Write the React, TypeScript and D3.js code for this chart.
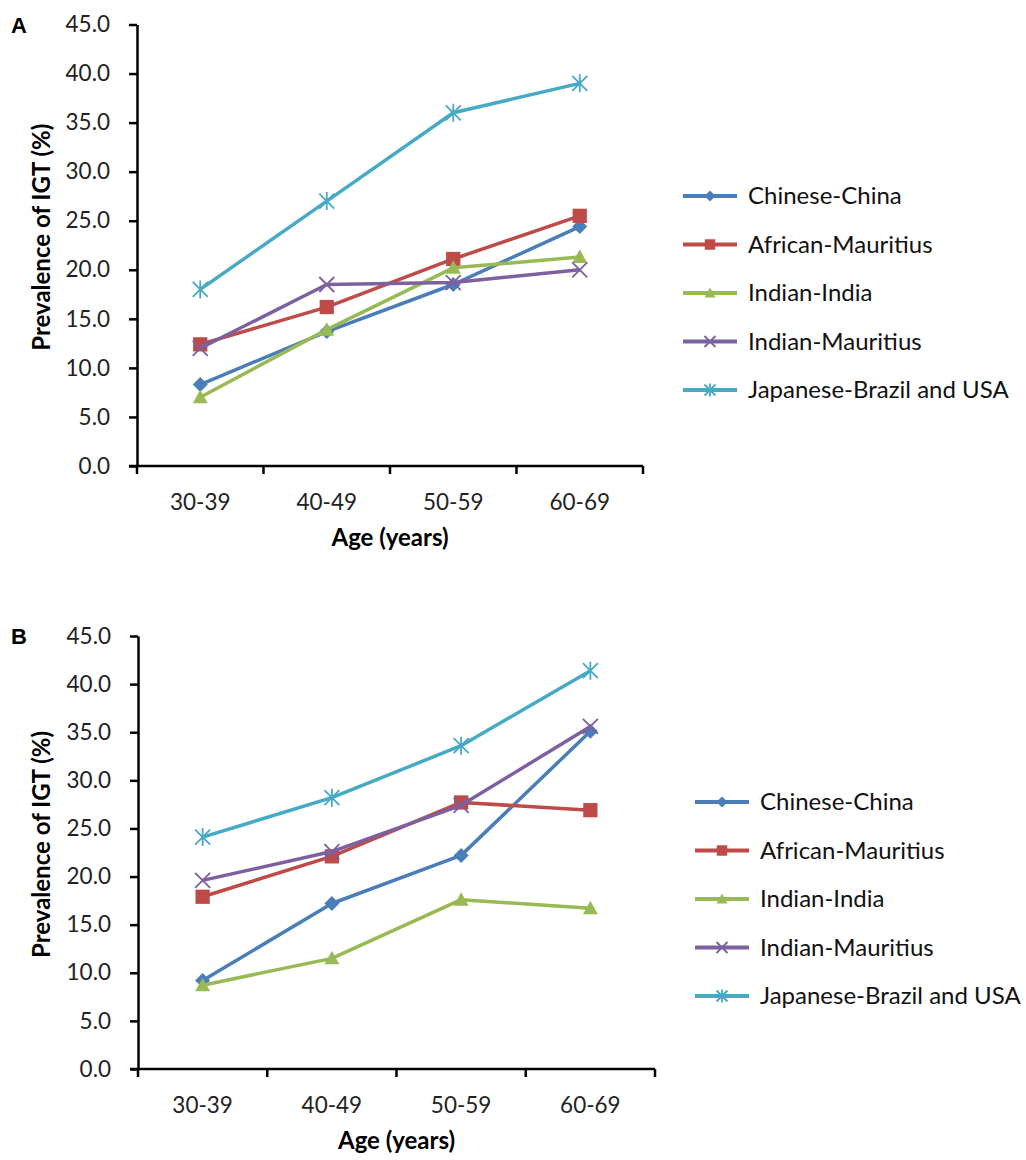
import React, { useRef, useEffect } from "react";
import * as d3 from "d3";

const ageGroups = ["30-39", "40-49", "50-59", "60-69"];
const seriesNames = [
  "Chinese-China",
  "African-Mauritius",
  "Indian-India",
  "Indian-Mauritius",
  "Japanese-Brazil and USA",
];
const yTicks = [0, 5, 10, 15, 20, 25, 30, 35, 40, 45];

// panel A
const chinaA = [8.3, 13.7, 18.5, 24.4];
const africanA = [12.4, 16.2, 21.1, 25.5];
const indiaA = [7.0, 13.9, 20.2, 21.3];
const indianMauA = [12.0, 18.5, 18.7, 20.0];
const japaneseA = [18.0, 27.0, 36.0, 39.0];

// panel B
const chinaB = [9.2, 17.2, 22.2, 35.1];
const africanB = [17.9, 22.1, 27.7, 26.9];
const indiaB = [8.7, 11.5, 17.6, 16.7];
const indianMauB = [19.6, 22.6, 27.4, 35.6];
const japaneseB = [24.1, 28.2, 33.6, 41.4];

const colors = ["#4A7EBB", "#BE4B48", "#98B954", "#7D60A0", "#46AAC5"];
const markers = ["diamond", "square", "triangle", "x", "star"];
const FONT = "Lato, 'Open Sans', sans-serif";

const drawMarker = (g, type, x, y, color, s) => {
  if (type === "diamond") {
    g.append("path")
      .attr("d", `M${x},${y - s}L${x + s},${y}L${x},${y + s}L${x - s},${y}Z`)
      .attr("fill", color);
  } else if (type === "square") {
    g.append("rect")
      .attr("x", x - s * 0.95)
      .attr("y", y - s * 0.95)
      .attr("width", s * 1.9)
      .attr("height", s * 1.9)
      .attr("fill", color);
  } else if (type === "triangle") {
    g.append("path")
      .attr("d", `M${x},${y - s}L${x + s},${y + s * 0.8}L${x - s},${y + s * 0.8}Z`)
      .attr("fill", color);
  } else if (type === "x") {
    g.append("path")
      .attr("d", `M${x - s},${y - s}L${x + s},${y + s}M${x - s},${y + s}L${x + s},${y - s}`)
      .attr("stroke", color)
      .attr("stroke-width", 1.8)
      .attr("fill", "none");
  } else {
    g.append("path")
      .attr(
        "d",
        `M${x - s},${y - s}L${x + s},${y + s}M${x - s},${y + s}L${x + s},${y - s}M${x},${y - s * 1.2}L${x},${y + s * 1.2}`
      )
      .attr("stroke", color)
      .attr("stroke-width", 1.8)
      .attr("fill", "none");
  }
};

const drawPanel = (svg, p) => {
  const x = d3.scaleBand().domain(ageGroups).range([p.x0, p.x1]);
  const y = d3.scaleLinear().domain([0, 45]).range([p.yBottom, p.yTop]);

  const g = svg.append("g");

  g.append("text")
    .attr("x", 11)
    .attr("y", p.yTop + 8)
    .attr("font-family", "'Liberation Sans', Arial, sans-serif")
    .attr("font-weight", "bold")
    .attr("font-size", 22)
    .text(p.label);

  // y axis
  const yAxis = g
    .append("g")
    .attr("transform", `translate(${p.x0},0)`)
    .call(
      d3
        .axisLeft(y)
        .tickValues(yTicks)
        .tickFormat(d3.format(".1f"))
        .tickSize(8)
        .tickSizeOuter(0)
        .tickPadding(19)
    );
  yAxis.select(".domain").attr("stroke", "#000").attr("stroke-width", 2.5);
  yAxis.selectAll(".tick line").attr("stroke", "#000").attr("stroke-width", 2.5);
  yAxis
    .selectAll(".tick text")
    .attr("font-family", FONT)
    .attr("font-size", 22.5)
    .attr("fill", "#222");

  // x axis
  g.append("line")
    .attr("x1", p.x0 - 8)
    .attr("x2", p.x1)
    .attr("y1", p.yBottom)
    .attr("y2", p.yBottom)
    .attr("stroke", "#000")
    .attr("stroke-width", 2.5);
  [...ageGroups.map((a) => x(a)), p.x1].forEach((tx) => {
    g.append("line")
      .attr("x1", tx)
      .attr("x2", tx)
      .attr("y1", p.yBottom)
      .attr("y2", p.yBottom + 8)
      .attr("stroke", "#000")
      .attr("stroke-width", 2.5);
  });
  ageGroups.forEach((a) => {
    g.append("text")
      .attr("x", x(a) + x.bandwidth() / 2)
      .attr("y", p.yBottom + 44)
      .attr("text-anchor", "middle")
      .attr("font-family", FONT)
      .attr("font-size", 22.5)
      .attr("fill", "#222")
      .text(a);
  });

  g.append("text")
    .attr("x", (p.x0 + p.x1) / 2)
    .attr("y", p.yBottom + 80)
    .attr("text-anchor", "middle")
    .attr("font-family", FONT)
    .attr("font-weight", "bold")
    .attr("font-size", 24)
    .text("Age (years)");

  g.append("text")
    .attr("transform", `translate(50,${(p.yTop + p.yBottom) / 2 - 8}) rotate(-90)`)
    .attr("text-anchor", "middle")
    .attr("font-family", FONT)
    .attr("font-weight", "bold")
    .attr("font-size", 24)
    .text("Prevalence of IGT (%)");

  const line = d3
    .line()
    .x((d, i) => x(ageGroups[i]) + x.bandwidth() / 2)
    .y((d) => y(d));

  p.series.forEach((vals, si) => {
    g.append("path")
      .datum(vals)
      .attr("d", line)
      .attr("fill", "none")
      .attr("stroke", colors[si])
      .attr("stroke-width", 3.5)
      .attr("stroke-linejoin", "round");
    vals.forEach((v, i) => {
      drawMarker(g, markers[si], x(ageGroups[i]) + x.bandwidth() / 2, y(v), colors[si], 7.5);
    });
  });

  // legend
  seriesNames.forEach((name, i) => {
    const ly = p.legendY + i * 48.5;
    g.append("line")
      .attr("x1", p.legendX)
      .attr("x2", p.legendX + 54)
      .attr("y1", ly)
      .attr("y2", ly)
      .attr("stroke", colors[i])
      .attr("stroke-width", 4);
    drawMarker(g, markers[i], p.legendX + 27, ly, colors[i], 5.5);
    g.append("text")
      .attr("x", p.legendX + 65)
      .attr("y", ly)
      .attr("dy", "0.35em")
      .attr("font-family", FONT)
      .attr("font-size", 24)
      .attr("fill", "#111")
      .text(name);
  });
};

const App = () => {
  const ref = useRef(null);

  useEffect(() => {
    const svg = d3
      .select(ref.current)
      .append("svg")
      .attr("width", 1026)
      .attr("height", 1160)
      .style("position", "absolute")
      .style("left", 0)
      .style("top", 0)
      .style("background", "#fff");

    drawPanel(svg, {
      label: "A",
      x0: 137,
      x1: 643,
      yTop: 24.5,
      yBottom: 466,
      legendX: 683,
      legendY: 196,
      series: [chinaA, africanA, indiaA, indianMauA, japaneseA],
    });
    drawPanel(svg, {
      label: "B",
      x0: 138,
      x1: 655,
      yTop: 636,
      yBottom: 1069,
      legendX: 695,
      legendY: 802,
      series: [chinaB, africanB, indiaB, indianMauB, japaneseB],
    });

    return () => {
      ref.current.innerHTML = "";
    };
  }, []);

  return <div ref={ref}></div>;
};

export default App;
